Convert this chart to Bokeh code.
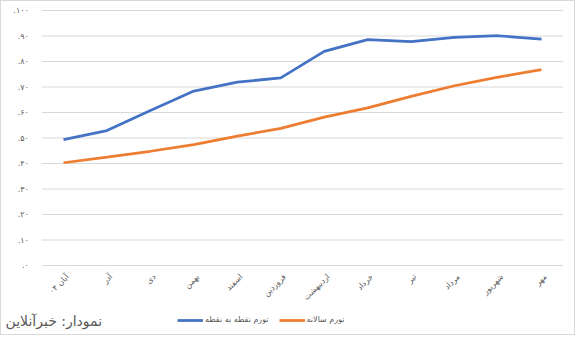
import math
from bokeh.plotting import figure
from bokeh.models import Legend, LegendItem, Label, Range1d, ColumnDataSource
from bokeh.core.properties import value
from bokeh.embed import file_html
from bokeh.resources import INLINE

months = ["آبان ۰۴", "آذر", "دی", "بهمن", "اسفند", "فروردین", "اردیبهشت",
          "خرداد", "تیر", "مرداد", "شهریور", "مهر"]
point_to_point = [49.4, 52.9, 60.8, 68.4, 71.9, 73.6, 84.0, 88.6, 87.8, 89.5, 90.1, 88.8]
annual = [40.3, 42.5, 44.8, 47.4, 50.7, 53.8, 58.2, 61.8, 66.3, 70.5, 73.9, 76.8]
y_ticks = [0, 10, 20, 30, 40, 50, 60, 70, 80, 90, 100]
y_tick_labels = [".۰", ".۱۰", ".۲۰", ".۳۰", ".۴۰", ".۵۰", ".۶۰", ".۷۰", ".۸۰", ".۹۰", ".۱۰۰"]
series_names = ["تورم نقطه به نقطه", "تورم سالانه"]
caption = "نمودار: خبرآنلاین"

FONT = "DejaVu Sans"
n = len(months)
idx = list(range(n))

p = figure(width=575, height=335, output_backend="svg", toolbar_location=None,
           x_range=Range1d(-1.427, 11.806), y_range=Range1d(-27.84, 103.53),
           x_axis_location=None, y_axis_location=None,
           min_border=0)
p.styles = {"border": "1px solid #d9d9d9"}
p.outline_line_color = None
p.grid.visible = False
p.background_fill_color = "white"
p.border_fill_color = "white"

# horizontal gridlines across the category band
p.segment(x0=[-0.5] * len(y_ticks), x1=[n - 0.5] * len(y_ticks), y0=y_ticks, y1=y_ticks,
          line_color="#d9d9d9", line_width=1)

# y tick labels
ysrc = ColumnDataSource(dict(x=[-0.5] * len(y_ticks), y=y_ticks, t=y_tick_labels))
p.text(x="x", y="y", text="t", source=ysrc, x_offset=-13,
       text_align="right", text_baseline="middle", text_font=value(FONT),
       text_font_size="8px", text_color="#595959")

# x tick labels (rotated)
xsrc = ColumnDataSource(dict(x=idx, y=[0] * n, t=months))
p.text(x="x", y="y", text="t", source=xsrc, x_offset=4, y_offset=10, angle=math.pi / 4,
       text_align="right", text_baseline="middle", text_font=value(FONT),
       text_font_size="8px", text_color="#595959")

r1 = p.line(idx, point_to_point, line_color="#4472C4", line_width=2.75)
r2 = p.line(idx, annual, line_color="#ED7D31", line_width=2.75)

legend = Legend(items=[LegendItem(label=series_names[0], renderers=[r1]),
                       LegendItem(label=series_names[1], renderers=[r2])],
                orientation="horizontal", location=(176, 12),
                label_text_font=FONT, label_text_font_size="8px",
                label_text_color="#595959", glyph_width=26, glyph_height=8,
                label_standoff=2, spacing=10, padding=0, margin=0,
                background_fill_alpha=0, border_line_color=None)
p.add_layout(legend)

p.add_layout(Label(x=4, y=16, x_units="screen", y_units="screen",
                   text=caption, text_font=FONT, text_font_size="14px",
                   text_color="#595959", text_baseline="middle"))

open("out.html", "w").write(file_html(p, INLINE))
